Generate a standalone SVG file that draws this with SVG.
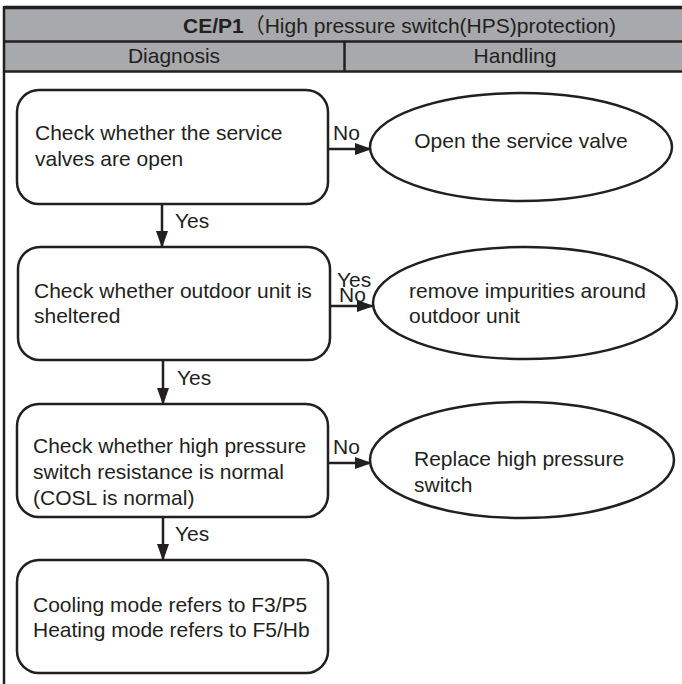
<svg xmlns="http://www.w3.org/2000/svg" width="682" height="684" viewBox="0 0 682 684">
<style>
text{font-family:"Liberation Sans",Arial,"Noto Sans CJK SC",sans-serif;font-size:21px;fill:#231f20}
.hdr{fill:#a7a9ac;stroke:none}
.ln{stroke:#231f20;stroke-width:2.5;fill:none}
.box{fill:#fff;stroke:#231f20;stroke-width:2.5}
.conn{stroke:#231f20;stroke-width:2.5;fill:none;marker-end:url(#ah)}
.b{font-weight:bold}
.m{text-anchor:middle}
</style>
<defs>
<marker id="ah" markerUnits="userSpaceOnUse" markerWidth="18" markerHeight="14" refX="16" refY="6" orient="auto">
<path d="M0,0 L17,6 L0,12 Z" fill="#231f20"/>
</marker>
</defs>
<rect width="682" height="684" fill="#fff"/>
<g id="header">
<rect class="hdr" x="4" y="7" width="690" height="65"/>
<line class="ln" x1="4" y1="7.5" x2="690" y2="7.5" style="stroke-width:3.5"/>
<line class="ln" x1="4" y1="41.5" x2="690" y2="41.5"/>
<line class="ln" x1="4" y1="71.5" x2="690" y2="71.5"/>
<line class="ln" x1="344.5" y1="41.5" x2="344.5" y2="71.5"/>
<line class="ln" x1="4" y1="6" x2="4" y2="684"/>
<text x="183" y="33"><tspan class="b">CE/P1</tspan><tspan>（High pressure switch(HPS)protection)</tspan></text>
<text class="m" x="174" y="63">Diagnosis</text>
<text class="m" x="515" y="63">Handling</text>
</g>
<g id="connectors">
<line class="conn" x1="328" y1="149" x2="371" y2="149"/>
<line class="conn" x1="162" y1="204" x2="162" y2="247"/>
<line class="conn" x1="330" y1="306" x2="373" y2="306"/>
<line class="conn" x1="163" y1="360" x2="163" y2="404"/>
<line class="conn" x1="328" y1="463" x2="371" y2="463"/>
<line class="conn" x1="163" y1="517" x2="163" y2="560"/>
<text x="333" y="140">No</text>
<text x="175" y="228">Yes</text>
<text x="337" y="287">Yes</text>
<text x="339" y="302">No</text>
<text x="177" y="385">Yes</text>
<text x="333" y="454">No</text>
<text x="175" y="541">Yes</text>
</g>
<g id="n1">
<rect class="box" x="17" y="90" width="311" height="114" rx="22"/>
<text x="35" y="140">Check whether the service</text>
<text x="35" y="166">valves are open</text>
</g>
<g id="n2">
<ellipse class="box" cx="521" cy="147" rx="151" ry="54"/>
<text class="m" x="521" y="148">Open the service valve</text>
</g>
<g id="n3">
<rect class="box" x="18" y="247" width="312" height="113" rx="22"/>
<text x="34" y="298">Check whether outdoor unit is</text>
<text x="34" y="323">sheltered</text>
</g>
<g id="n4">
<ellipse class="box" cx="525" cy="303" rx="152" ry="56"/>
<text x="409" y="298">remove impurities around</text>
<text x="409" y="323">outdoor unit</text>
</g>
<g id="n5">
<rect class="box" x="17" y="404" width="311" height="113" rx="22"/>
<text x="33" y="453">Check whether high pressure</text>
<text x="33" y="479">switch resistance is normal</text>
<text x="33" y="505">(COSL is normal)</text>
</g>
<g id="n6">
<ellipse class="box" cx="522" cy="460" rx="152" ry="58"/>
<text x="414" y="466">Replace high pressure</text>
<text x="414" y="492">switch</text>
</g>
<g id="n7">
<rect class="box" x="17" y="560" width="311" height="113" rx="22"/>
<text x="33" y="612">Cooling mode refers to F3/P5</text>
<text x="33" y="637">Heating mode refers to F5/Hb</text>
</g>
</svg>
